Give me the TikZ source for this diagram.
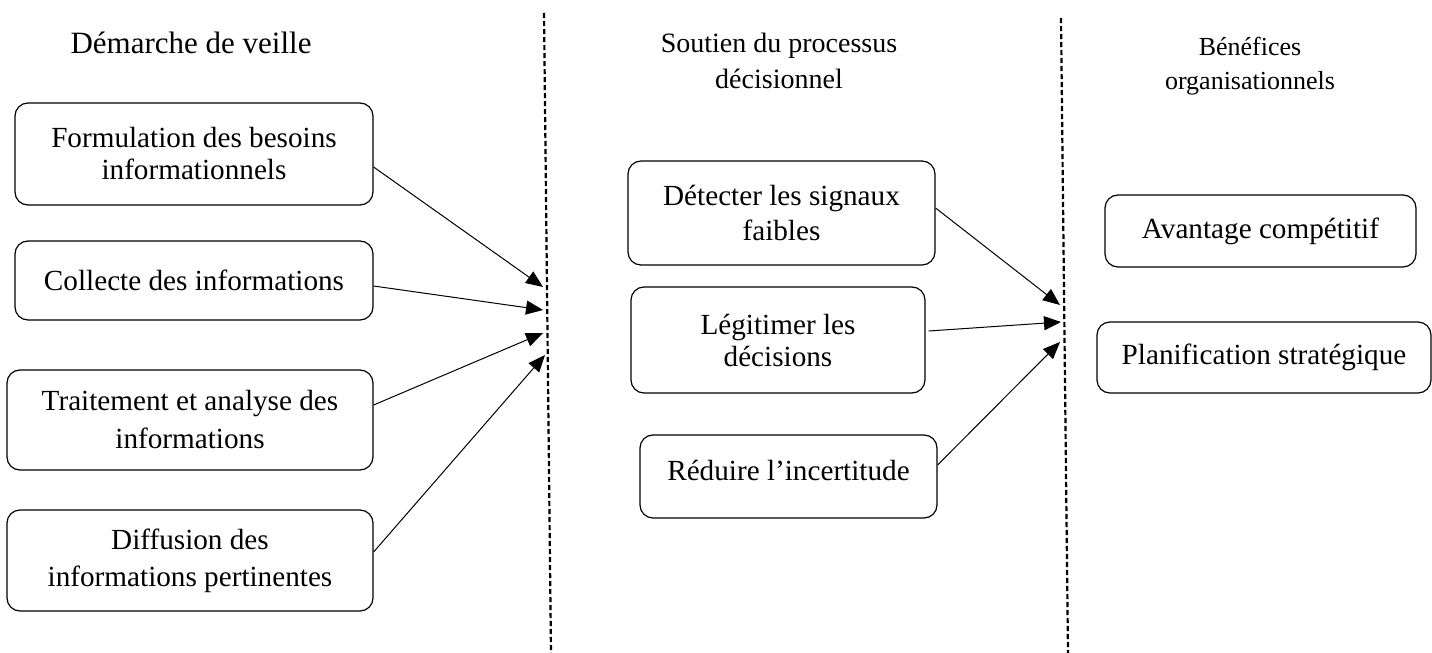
\documentclass[tikz,border=0pt]{standalone}
\usepackage{fontspec}
\setmainfont{Liberation Serif}
\usetikzlibrary{arrows.meta}
\begin{document}
\begin{tikzpicture}[x=0.5pt,y=-0.5pt,
  box/.style={draw, line width=0.6pt, rounded corners=6.5pt, align=center, inner sep=0pt, font=\fontsize{14.6}{17}\selectfont},
  head/.style={align=center, inner sep=0pt, font=\fontsize{14}{17}\selectfont},
  conn/.style={line width=0.5pt, -{Triangle[length=8.5pt,width=7pt]}},
  sepline/.style={line width=1.1pt, dash pattern=on 2.6pt off 1.4pt}]
\useasboundingbox (0,0) rectangle (1432,653);

% separators
\coordinate (d1a) at (544,13);
\coordinate (d1b) at (551,653);
\coordinate (d2a) at (1061,18);
\coordinate (d2b) at (1068,653);
\draw[sepline] (d1a) -- (d1b);
\draw[sepline] (d2a) -- (d2b);

% headers
\node[head, font=\fontsize{15.5}{18}\selectfont] (h1) at (191,43) {Démarche de veille};
\node[head, font=\fontsize{14}{18}\selectfont] (h2) at (779,61) {Soutien du processus\\décisionnel};
\node[head, font=\fontsize{13}{17}\selectfont] (h3) at (1250,66) {Bénéfices\\organisationnels};

% left column
\node[box, minimum width=179pt, minimum height=51pt, font=\fontsize{14.6}{16}\selectfont] (b1) at (194,154) {Formulation des besoins\\informationnels};
\node[box, minimum width=179pt, minimum height=39.5pt] (b2) at (194,280.5) {Collecte des informations};
\node[box, minimum width=183pt, minimum height=50pt, font=\fontsize{14.6}{19}\selectfont] (b3) at (190,420) {Traitement et analyse des\\informations};
\node[box, minimum width=183pt, minimum height=50.5pt, font=\fontsize{14.6}{18.5}\selectfont] (b4) at (190,560.5) {Diffusion des\\informations pertinentes};

% middle column
\node[box, minimum width=153.5pt, minimum height=52pt, font=\fontsize{14.6}{17.5}\selectfont] (b5) at (781.5,213) {Détecter les signaux\\faibles};
\node[box, minimum width=147pt, minimum height=53pt, font=\fontsize{14.6}{16}\selectfont] (b6) at (778,340) {Légitimer les\\décisions};
\node[box, minimum width=148.5pt, minimum height=41.5pt] (b7) at (788.5,476.5) {\raisebox{3pt}[\height][\depth]{Réduire l’incertitude}};

% right column
\node[box, minimum width=155.5pt, minimum height=36pt] (b8) at (1260.5,231) {Avantage compétitif};
\node[box, minimum width=167pt, minimum height=35.5pt] (b9) at (1264,357.5) {Planification stratégique};

% arrow tips
\coordinate (t1) at (543,287);
\coordinate (t2) at (543,310);
\coordinate (t3) at (543,333);
\coordinate (t4) at (545,355);
\coordinate (t5) at (1060,305);
\coordinate (t6) at (1061,322);
\coordinate (t7) at (1060,342);

\draw[conn] ([yshift=-6.5pt]b1.east) -- (t1);
\draw[conn] ([yshift=-2.75pt]b2.east) -- (t2);
\draw[conn] ([yshift=7.5pt]b3.east) -- (t3);
\draw[conn] ([yshift=4.25pt]b4.east) -- (t4);
\draw[conn] ([yshift=2.5pt]b5.east) -- (t5);
\draw[conn] ([xshift=1.5pt,yshift=4.5pt]b6.east) -- (t6);
\draw[conn] ([yshift=5.75pt]b7.east) -- (t7);
\end{tikzpicture}
\end{document}
